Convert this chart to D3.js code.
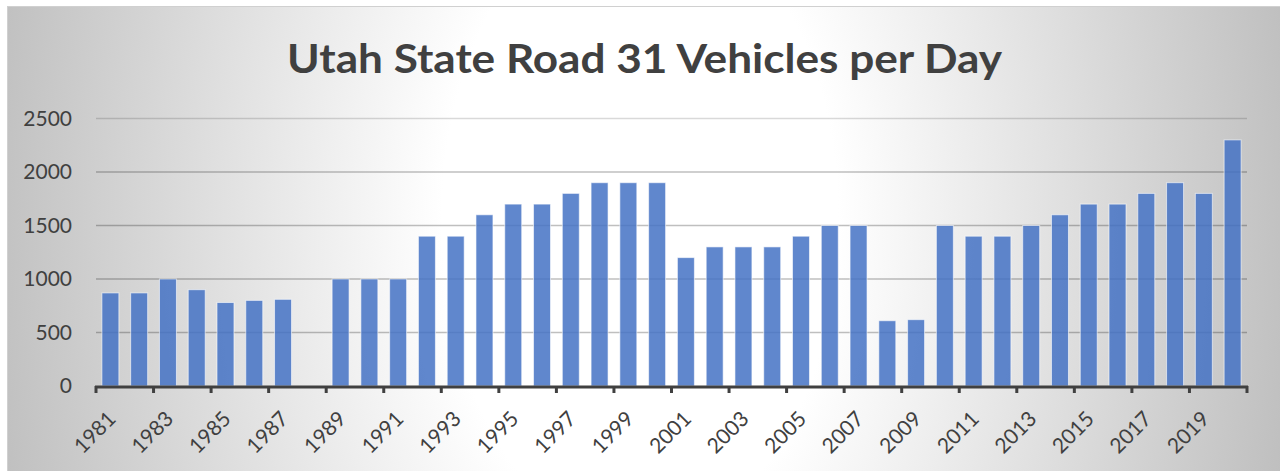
<!DOCTYPE html>
<html>
<head>
<meta charset="utf-8">
<script src="https://cdn.jsdelivr.net/npm/d3@7"></script>
<style>
  html, body { margin: 0; padding: 0; background: #ffffff; }
  svg { display: block; }
</style>
</head>
<body>
<svg id="chart" width="1280" height="471"></svg>
<script>
// ---- data ----
const title = "Utah State Road 31 Vehicles per Day";
const years = ["1981","1982","1983","1984","1985","1986","1987","1988","1989","1990",
               "1991","1992","1993","1994","1995","1996","1997","1998","1999","2000",
               "2001","2002","2003","2004","2005","2006","2007","2008","2009","2010",
               "2011","2012","2013","2014","2015","2016","2017","2018","2019","2020"];
const vehicles = [870, 870, 1000, 900, 780, 800, 810, null, 1000, 1000,
                  1000, 1400, 1400, 1600, 1700, 1700, 1800, 1900, 1900, 1900,
                  1200, 1300, 1300, 1300, 1400, 1500, 1500, 610, 620, 1500,
                  1400, 1400, 1500, 1600, 1700, 1700, 1800, 1900, 1800, 2300];
const yTicks = [0, 500, 1000, 1500, 2000, 2500];
const xLabelYears = years.filter((d, i) => i % 2 === 0);

// ---- layout ----
const W = 1280, H = 471;
const plot = { left: 96, right: 1247, top: 118.5, bottom: 386 };
const svg = d3.select("#chart");
const font = "Lato, 'Open Sans', sans-serif";

// background
const defs = svg.append("defs");
const grad = defs.append("radialGradient")
  .attr("id", "bg")
  .attr("gradientUnits", "userSpaceOnUse")
  .attr("cx", 640).attr("cy", 220).attr("r", 660)
  .attr("gradientTransform", "translate(640,220) scale(1,1.6) translate(-640,-220)");
grad.append("stop").attr("offset", 0).attr("stop-color", "#ffffff");
grad.append("stop").attr("offset", 0.3).attr("stop-color", "#ffffff");
grad.append("stop").attr("offset", 1).attr("stop-color", "#bfbfbf");

svg.append("rect").attr("x", 7).attr("y", 6).attr("width", W - 7).attr("height", H - 6)
  .attr("fill", "url(#bg)");
svg.append("line").attr("x1", 7).attr("x2", W).attr("y1", 6.5).attr("y2", 6.5)
  .attr("stroke", "#d0d0d0").attr("stroke-width", 1);
svg.append("line").attr("x1", 7.5).attr("x2", 7.5).attr("y1", 6).attr("y2", H)
  .attr("stroke", "#d0d0d0").attr("stroke-width", 1);

// scales
const x = d3.scaleBand().domain(years).range([plot.left, plot.right])
  .paddingInner(0.41).paddingOuter(0.205);
const y = d3.scaleLinear().domain([0, 2500]).range([plot.bottom, plot.top]);
const step = x.step();
const boundary = i => plot.left + i * step;

// gridlines
svg.append("g").selectAll("line").data(yTicks.filter(d => d > 0)).join("line")
  .attr("x1", plot.left).attr("x2", plot.right)
  .attr("y1", d => y(d)).attr("y2", d => y(d))
  .attr("stroke", d => d === 2500 ? "rgba(0,0,0,0.15)" : "rgba(0,0,0,0.25)")
  .attr("stroke-width", 1.5);

// y labels
svg.append("g").selectAll("text").data(yTicks).join("text")
  .attr("x", 72).attr("y", d => y(d)).attr("dy", "0.35em")
  .attr("text-anchor", "end")
  .attr("font-family", font).attr("font-size", 21).attr("fill", "#404040")
  .text(d => d);

// bars
svg.append("g").selectAll("rect")
  .data(years.map((yr, i) => ({ yr, v: vehicles[i] })).filter(d => d.v != null))
  .join("rect")
  .attr("x", d => x(d.yr)).attr("width", x.bandwidth())
  .attr("y", d => y(d.v)).attr("height", d => y(0) - y(d.v))
  .attr("fill", "#4472C4").attr("fill-opacity", 0.85)
  .attr("stroke", "#ffffff").attr("stroke-opacity", 0.6).attr("stroke-width", 1);

// x axis line and ticks
const axisColor = "#404040";
svg.append("line").attr("x1", plot.left - 1).attr("x2", plot.right + 1)
  .attr("y1", plot.bottom + 1).attr("y2", plot.bottom + 1)
  .attr("stroke", axisColor).attr("stroke-width", 3);
const tickIdx = d3.range(0, years.length + 1, 2);
svg.append("g").selectAll("line").data(tickIdx).join("line")
  .attr("x1", i => boundary(i)).attr("x2", i => boundary(i))
  .attr("y1", plot.bottom).attr("y2", plot.bottom + 7)
  .attr("stroke", axisColor).attr("stroke-width", 3);

// x labels
svg.append("g").selectAll("text").data(xLabelYears).join("text")
  .attr("transform", d => `translate(${x(d) + x.bandwidth() / 2 + 1.5},${plot.bottom + 29}) rotate(-45)`)
  .attr("dy", "0.35em")
  .attr("text-anchor", "end")
  .attr("font-family", font).attr("font-size", 21).attr("fill", "#404040")
  .text(d => d);

// title
svg.append("text")
  .attr("x", 644.5).attr("y", 73)
  .attr("text-anchor", "middle")
  .attr("font-family", font).attr("font-weight", "bold").attr("font-size", 41)
  .attr("fill", "#404040")
  .attr("textLength", 715).attr("lengthAdjust", "spacingAndGlyphs")
  .text(title);
</script>
</body>
</html>
